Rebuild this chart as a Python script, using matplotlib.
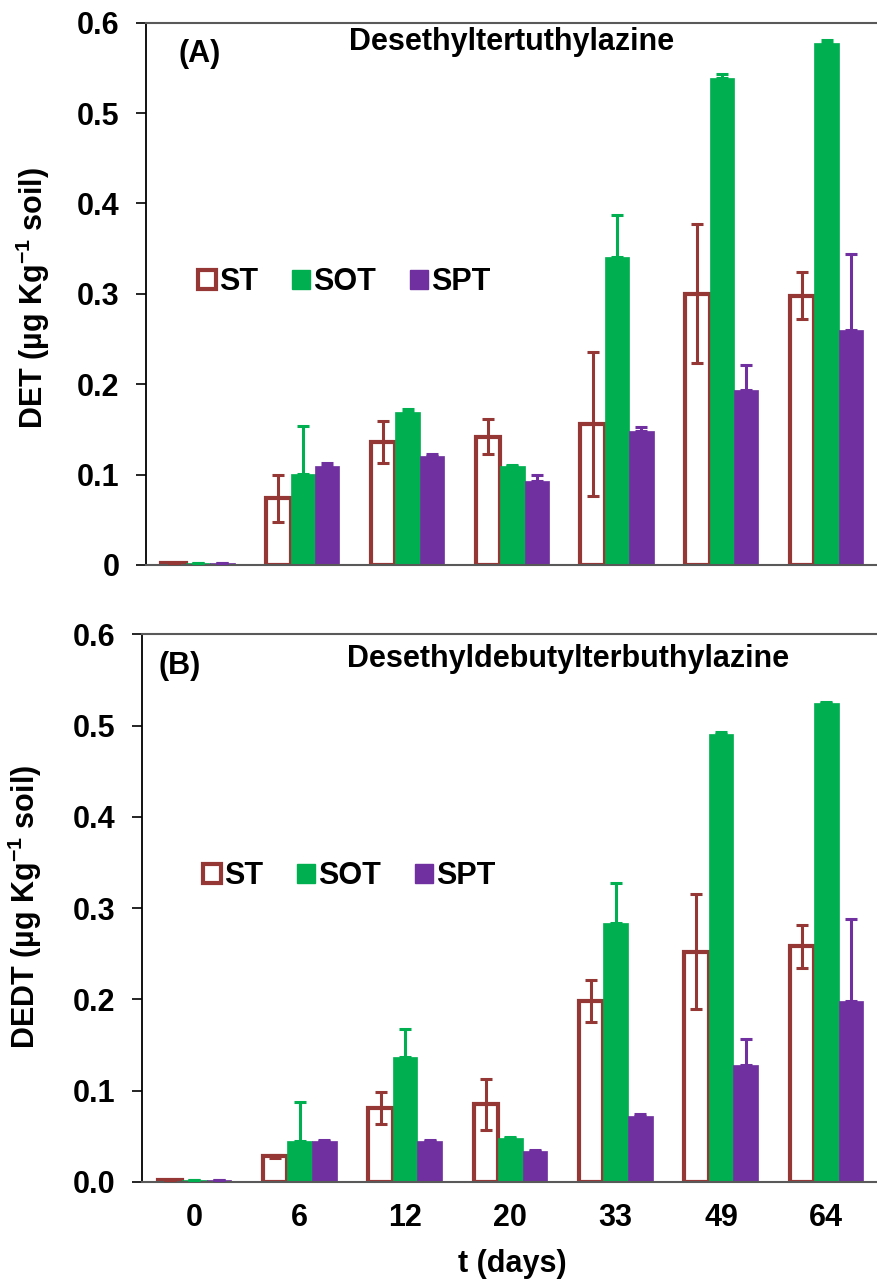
import numpy as np
import matplotlib
matplotlib.use('Agg')
import matplotlib.pyplot as plt
from matplotlib.patches import Patch

plt.rcParams['font.family'] = ['Liberation Sans', 'DejaVu Sans']
plt.rcParams['font.weight'] = 'bold'
plt.rcParams['mathtext.fontset'] = 'custom'
plt.rcParams['mathtext.rm'] = 'Liberation Sans'
plt.rcParams['mathtext.default'] = 'regular'

days = ['0', '6', '12', '20', '33', '49', '64']
series = ['ST', 'SOT', 'SPT']

# (A) DET
det_st = [0.002, 0.074, 0.136, 0.142, 0.156, 0.300, 0.298]
det_st_err = [0.0, 0.026, 0.023, 0.019, 0.080, 0.077, 0.026]
det_sot = [0.002, 0.101, 0.169, 0.110, 0.341, 0.539, 0.577]
det_sot_err = [0.0, 0.053, 0.003, 0.001, 0.046, 0.004, 0.004]
det_spt = [0.002, 0.109, 0.121, 0.093, 0.148, 0.194, 0.260]
det_spt_err = [0.0, 0.004, 0.002, 0.006, 0.005, 0.027, 0.084]

# (B) DEDT
dedt_st = [0.002, 0.028, 0.081, 0.085, 0.198, 0.252, 0.258]
dedt_st_err = [0.0, 0.002, 0.018, 0.028, 0.023, 0.063, 0.024]
dedt_sot = [0.002, 0.045, 0.137, 0.048, 0.284, 0.491, 0.525]
dedt_sot_err = [0.0, 0.043, 0.031, 0.001, 0.044, 0.002, 0.001]
dedt_spt = [0.002, 0.045, 0.045, 0.034, 0.072, 0.128, 0.198]
dedt_spt_err = [0.0, 0.001, 0.001, 0.001, 0.002, 0.029, 0.090]

c_st = '#953735'
c_sot = '#00B050'
c_spt = '#7030A0'
fs = 22

fig = plt.figure(figsize=(8.77, 12.86), dpi=100)
ax1 = fig.add_axes([0.1661, 0.5607, 0.8361, 0.4217])
ax2 = fig.add_axes([0.1616, 0.0809, 0.8407, 0.4259])

def draw(ax, st, st_err, sot, sot_err, spt, spt_err):
    x = np.arange(len(days))
    w = 0.233
    zeros = [0] * len(days)
    ax.bar(x - w, st, w, color='white', edgecolor=c_st, linewidth=3, zorder=2)
    ax.errorbar(x - w, st, yerr=st_err, fmt='none', ecolor=c_st, elinewidth=2.2,
                capsize=4.5, capthick=2.2, zorder=3)
    ax.bar(x, sot, w, color=c_sot, edgecolor=c_sot, linewidth=0.5, zorder=2)
    ax.errorbar(x, sot, yerr=[zeros, sot_err], fmt='none', ecolor=c_sot, elinewidth=2.2,
                capsize=4.5, capthick=2.2, zorder=3)
    ax.bar(x + w, spt, w, color=c_spt, edgecolor=c_spt, linewidth=0.5, zorder=2)
    ax.errorbar(x + w, spt, yerr=[zeros, spt_err], fmt='none', ecolor=c_spt, elinewidth=2.2,
                capsize=4.5, capthick=2.2, zorder=3)
    ax.set_xlim(-0.5, 6.5)
    ax.set_ylim(0, 0.6)
    ax.set_yticks(np.arange(0, 0.61, 0.1))
    ax.spines['right'].set_visible(False)
    ax.spines['top'].set_color('#595959')
    ax.spines['bottom'].set_color('#595959')
    ax.spines['bottom'].set_linewidth(1.5)
    ax.spines['top'].set_linewidth(1.5)
    ax.spines['left'].set_linewidth(1.3)
    ax.tick_params(axis='y', direction='out', length=7, width=1.2, pad=12, labelsize=fs)
    ax.tick_params(axis='x', length=0, pad=15, labelsize=fs)
    ax.set_xticks(x)

draw(ax1, det_st, det_st_err, det_sot, det_sot_err, det_spt, det_spt_err)
draw(ax2, dedt_st, dedt_st_err, dedt_sot, dedt_sot_err, dedt_spt, dedt_spt_err)

ax1.set_yticklabels(['0', '0.1', '0.2', '0.3', '0.4', '0.5', '0.6'], fontweight='bold')
ax2.set_yticklabels(['0.0', '0.1', '0.2', '0.3', '0.4', '0.5', '0.6'], fontweight='bold')
ax1.set_xticklabels([])
ax2.set_xticklabels(days, fontweight='bold')

ax1.set_ylabel('DET (µg Kg$^{-1}$ soil)', fontsize=fs, fontweight='bold', va='center')
ax1.yaxis.set_label_coords(0.0376, 1 - 298 / 1286, transform=fig.transFigure)
ax2.set_ylabel('DEDT (µg Kg$^{-1}$ soil)', fontsize=fs, fontweight='bold', va='center')
ax2.yaxis.set_label_coords(0.0285, 1 - 907 / 1286, transform=fig.transFigure)

fig.text(512 / 877, 1 - 1272 / 1286, 't (days)', fontsize=fs, fontweight='bold',
         ha='center', va='baseline')

fig.text(512 / 877, 1 - 50 / 1286, 'Desethyltertuthylazine', fontsize=fs,
         fontweight='bold', ha='center', va='baseline')
fig.text(568 / 877, 1 - 666.7 / 1286, 'Desethyldebutylterbuthylazine', fontsize=fs,
         fontweight='bold', ha='center', va='baseline')
fig.text(179 / 877, 1 - 54 / 1286, '(A)', fontsize=fs, fontweight='bold',
         ha='left', va='center')
fig.text(159 / 877, 1 - 666 / 1286, '(B)', fontsize=fs, fontweight='bold',
         ha='left', va='center')

handles = [Patch(facecolor='white', edgecolor=c_st, linewidth=3),
           Patch(facecolor=c_sot, edgecolor=c_sot),
           Patch(facecolor=c_spt, edgecolor=c_spt)]
for ax, lx, ly in [(ax1, 198 / 877, 1 - 282 / 1286), (ax2, 203 / 877, 1 - 876 / 1286)]:
    ax.legend(handles, series, loc='center left', bbox_to_anchor=(lx, ly),
              bbox_transform=fig.transFigure, ncol=3, frameon=False,
              handlelength=0.6, handleheight=0.6, handletextpad=0.1,
              columnspacing=1.1, borderpad=0, borderaxespad=0,
              prop={'size': fs, 'weight': 'bold'})

fig.savefig('out.png', dpi=100)
